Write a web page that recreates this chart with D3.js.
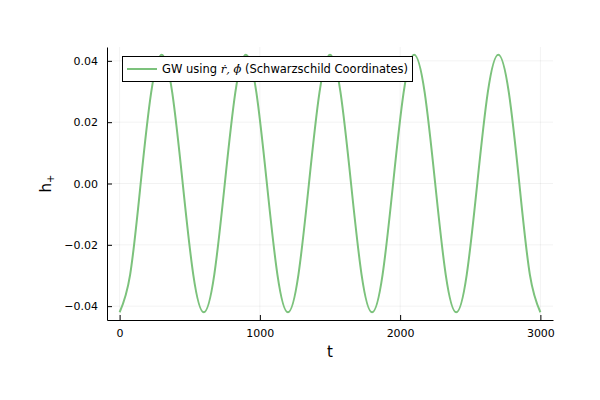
<!DOCTYPE html>
<html><head><meta charset="utf-8">
<script src="https://cdn.jsdelivr.net/npm/d3@7"></script>
<style>body{margin:0;background:#fff}svg{display:block}text{font-family:"DejaVu Sans",sans-serif}</style>
</head><body>
<svg id="c" width="600" height="400"></svg>
<script>
const tValues = [0,75,150,225,300,375,450,525,600,675,750,825,900,975,1050,1125,1200,1275,1350,1425,1500,1575,1650,1725,1800,1875,1950,2025,2100,2175,2250,2325,2400,2475,2550,2625,2700,2775,2850,2925,3000];
const hValues = [-0.042,-0.0297,0,0.0297,0.042,0.0297,0,-0.0297,-0.042,-0.0297,0,0.0297,0.042,0.0297,0,-0.0297,-0.042,-0.0297,0,0.0297,0.042,0.0297,0,-0.0297,-0.042,-0.0297,0,0.0297,0.042,0.0297,0,-0.0297,-0.042,-0.0297,0,0.0297,0.042,0.0297,0,-0.0297,-0.042];
const xTicks = [0,1000,2000,3000];
const yTicks = [-0.04,-0.02,0,0.02,0.04];
const yTickLabels = ["\u22120.04","\u22120.02","0.00","0.02","0.04"];

const svg = d3.select("#c");
const L=107,R=553,T=47,B=320;
const x = d3.scaleLinear().domain([-90,3090]).range([L,R]);
const y = d3.scaleLinear().domain([-0.04452,0.04452]).range([B,T]);

// grid
svg.append("g").selectAll("line").data(xTicks).join("line")
  .attr("x1",d=>x(d)).attr("x2",d=>x(d)).attr("y1",T).attr("y2",B)
  .attr("stroke","#000").attr("stroke-opacity",0.1).attr("stroke-width",0.5);
svg.append("g").selectAll("line").data(yTicks).join("line")
  .attr("y1",d=>y(d)).attr("y2",d=>y(d)).attr("x1",L).attr("x2",R)
  .attr("stroke","#000").attr("stroke-opacity",0.1).attr("stroke-width",0.5);

// axes
const xAxis = d3.axisBottom(x).tickValues(xTicks).tickSizeInner(-5).tickSizeOuter(0).tickPadding(9).tickFormat(d3.format("d"));
const gx = svg.append("g").attr("transform",`translate(0,${B})`).call(xAxis);
const yAxis = d3.axisLeft(y).tickValues(yTicks).tickSizeInner(-5).tickSizeOuter(0).tickPadding(9).tickFormat((d,i)=>yTickLabels[i]);
const gy = svg.append("g").attr("transform",`translate(${L},0)`).call(yAxis);
[gx,gy].forEach(g=>{
  g.select(".domain").attr("stroke","#000").attr("stroke-width",1);
  g.selectAll(".tick line").attr("stroke","#000");
  g.selectAll(".tick text").attr("font-size",11).attr("fill","#000").attr("font-family","DejaVu Sans, sans-serif");
});

// line
const line = d3.line().x((d,i)=>x(tValues[i])).y(d=>y(d)).curve(d3.curveNatural);
svg.append("path").attr("d",line(hValues)).attr("fill","none")
  .attr("stroke","#7cc27c").attr("stroke-width",2);

// labels
svg.append("text").attr("x",(L+R)/2).attr("y",357).attr("text-anchor","middle").attr("font-size",15).text("t");
const yl = svg.append("text").attr("transform",`translate(51,${(T+B)/2}) rotate(-90)`).attr("text-anchor","middle").attr("font-size",15);
yl.append("tspan").text("h");
yl.append("tspan").attr("font-size",10).attr("dy",3).text("+");

// legend
const lg = svg.append("g");
lg.append("rect").attr("x",122.5).attr("y",56.5).attr("width",290).attr("height",25).attr("fill","#fff").attr("stroke","#000").attr("stroke-width",1);
lg.append("line").attr("x1",127).attr("x2",157).attr("y1",69).attr("y2",69).attr("stroke","#7cc27c").attr("stroke-width",2);
const lt = lg.append("text").attr("x",162).attr("y",73).attr("font-size",11.5);
lt.append("tspan").text("GW using ");
lt.append("tspan").attr("font-family","DejaVu Serif, serif").attr("font-style","italic").text("\u1E59, \u03D5\u0307");
lt.append("tspan").text(" (Schwarzschild Coordinates)");
</script>
</body></html>
